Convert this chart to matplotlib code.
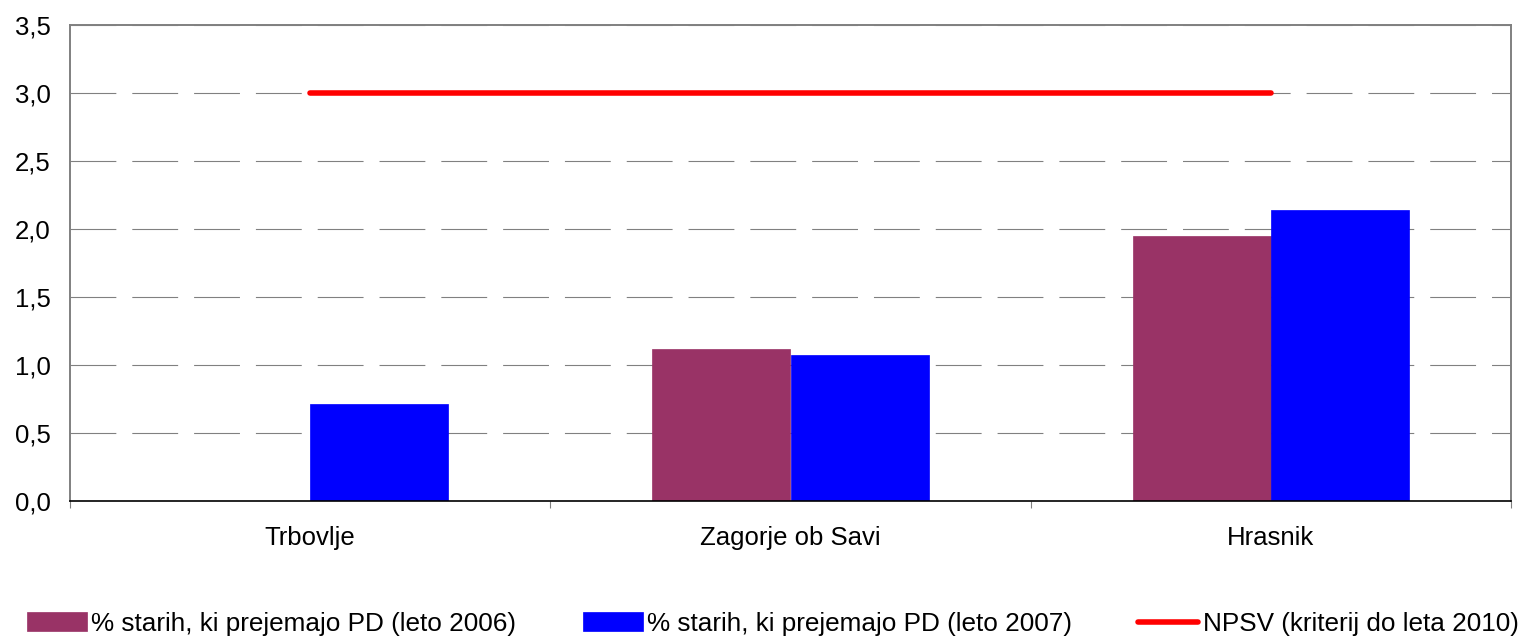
import numpy as np
import matplotlib
matplotlib.use("Agg")
from matplotlib import pyplot as plt

plt.rcParams['font.family'] = ['Liberation Sans', 'DejaVu Sans']
plt.rcParams['lines.scale_dashes'] = False

# data
kraji = ["Trbovlje", "Zagorje ob Savi", "Hrasnik"]
leto2006 = [np.nan, 1.12, 1.95]
leto2007 = [0.71, 1.07, 2.14]
npsv = [3.0, 3.0, 3.0]
yticks = [0.0, 0.5, 1.0, 1.5, 2.0, 2.5, 3.0, 3.5]
ylabels = ["0,0", "0,5", "1,0", "1,5", "2,0", "2,5", "3,0", "3,5"]
lab2006 = "% starih, ki prejemajo PD (leto 2006)"
lab2007 = "% starih, ki prejemajo PD (leto 2007)"
labnpsv = "NPSV (kriterij do leta 2010)"

fs = 18.5

fig = plt.figure(figsize=(15.21, 6.36), dpi=100)
ax = fig.add_axes([70/1521, 135/636, 1441/1521, 476/636])

x = np.arange(len(kraji))
w = 0.2875
b1 = ax.bar(x - w/2, leto2006, w, color="#993366", edgecolor="#993366", lw=0.5,
            label=lab2006, zorder=2)
b2 = ax.bar(x + w/2, leto2007, w, color="#0000ff", edgecolor="#0000ff", lw=0.5,
            label=lab2007, zorder=2)
ln, = ax.plot(x, npsv, color="#ff0000", lw=4, solid_capstyle="round",
              label=labnpsv, zorder=3)

ax.set_xlim(-0.5, 2.5)
ax.set_ylim(0, 3.5)
ax.set_yticks(yticks)
ax.set_yticklabels(ylabels)
ax.set_xticks(x)
ax.set_xticklabels(kraji)
ax.set_xticks([-0.5, 0.5, 1.5, 2.5], minor=True)
ax.tick_params(axis="x", which="major", length=0, pad=18, labelsize=fs)
ax.tick_params(axis="x", which="minor", length=5, width=0.8, color="#808080")
ax.tick_params(axis="y", length=0, pad=14, labelsize=fs)

ax.yaxis.grid(True, color="#808080", lw=0.8, linestyle=(0, (33, 11.5)), zorder=0)
ax.set_axisbelow(True)

for s in ["top", "right", "left"]:
    ax.spines[s].set_color("#808080")
    ax.spines[s].set_linewidth(1.4)
ax.spines["bottom"].set_color("#000000")
ax.spines["bottom"].set_linewidth(1.2)

leg = fig.legend(handles=[b1, b2, ln], loc="lower center", ncol=3, frameon=False,
                 bbox_to_anchor=(0.508, -0.037), handlelength=2.3,
                 handleheight=0.75, handletextpad=0.16, columnspacing=2.55,
                 prop={"size": 18.8})

fig.savefig("out.png", dpi=100)
